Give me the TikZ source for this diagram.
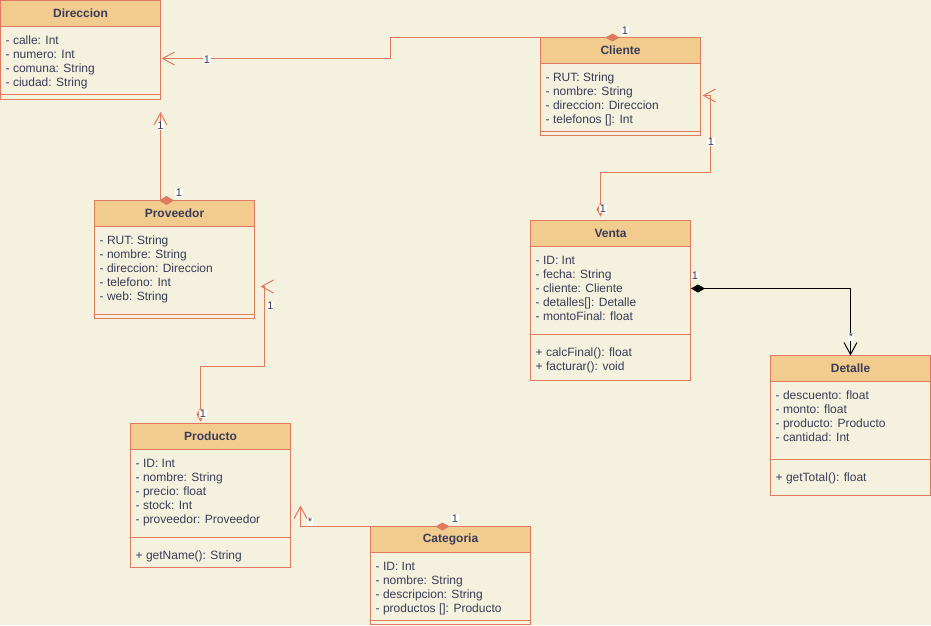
\documentclass[tikz,border=0pt]{standalone}
\usepackage{fontspec}
\setmainfont{Liberation Sans}
\usetikzlibrary{arrows.meta,calc}

\definecolor{umlbg}{HTML}{F4F1DE}
\definecolor{umlhead}{HTML}{F2CC8F}
\definecolor{umlline}{HTML}{E07A5F}
\definecolor{umltext}{HTML}{393C56}

\newcommand{\umlfont}{\fontsize{12pt}{14pt}\selectfont}
\newcommand{\multfont}{\fontsize{11pt}{13pt}\selectfont}

\begin{document}
\begin{tikzpicture}[x=1pt, y=-1pt,
	classhead/.style={draw=umlline, fill=umlhead, line width=1pt, minimum width=160pt, minimum height=26pt, inner sep=0pt, outer sep=0pt, anchor=north west, text=umltext, font=\umlfont\bfseries},
	classbody/.style={draw=umlline, fill=umlbg, line width=1pt, minimum width=160pt, inner sep=0pt, outer sep=0pt, anchor=north west},
	member/.style={anchor=base west, inner sep=0pt, text=umltext, font=\umlfont},
	mult/.style={fill=white, inner sep=0.6pt, text=umltext, font=\multfont},
	link/.style={draw=umlline, line width=1pt},
	dia/.tip={Diamond[length=14pt,width=8pt]},
	barb/.tip={Straight Barb[length=12pt,width=13pt]}]

	\useasboundingbox (0,0) rectangle (931,625);
	\fill[umlbg] (0,0) rectangle (931,625);

	% Direccion
	\node[classhead] (direccion) at (0.5,0.5) {Direccion};
	\node[classbody, minimum height=68pt] (direccion attr) at (direccion.south west) {};
	\node[classbody, minimum height=4.5pt] (direccion ops) at (direccion attr.south west) {};
	\foreach \txt [count=\i] in {- calle: Int, - numero: Int, - comuna: String, - ciudad: String}
		\node[member] (direccion a\i) at ([shift={(5,{4+14*\i})}]direccion.south west) {\txt};

	% Cliente
	\node[classhead] (cliente) at (540.5,37.5) {Cliente};
	\node[classbody, minimum height=68pt] (cliente attr) at (cliente.south west) {};
	\node[classbody, minimum height=4pt] (cliente ops) at (cliente attr.south west) {};
	\foreach \txt [count=\i] in {- RUT: String, - nombre: String, - direccion: Direccion, {- telefonos []: Int}}
		\node[member] (cliente a\i) at ([shift={(5,{4+14*\i})}]cliente.south west) {\txt};

	% Proveedor
	\node[classhead] (proveedor) at (94.5,200.5) {Proveedor};
	\node[classbody, minimum height=88pt] (proveedor attr) at (proveedor.south west) {};
	\node[classbody, minimum height=4pt] (proveedor ops) at (proveedor attr.south west) {};
	\foreach \txt [count=\i] in {- RUT: String, - nombre: String, - direccion: Direccion, - telefono: Int, - web: String}
		\node[member] (proveedor a\i) at ([shift={(5,{4+14*\i})}]proveedor.south west) {\txt};

	% Venta
	\node[classhead] (venta) at (530.5,220.5) {Venta};
	\node[classbody, minimum height=88pt] (venta attr) at (venta.south west) {};
	\node[classbody, minimum height=46pt] (venta ops) at (venta attr.south west) {};
	\foreach \txt [count=\i] in {- ID: Int, - fecha: String, - cliente: Cliente, {- detalles[]: Detalle}, - montoFinal: float}
		\node[member] (venta a\i) at ([shift={(5,{4+14*\i})}]venta.south west) {\txt};
	\foreach \txt [count=\i] in {+ calcFinal(): float, + facturar(): void}
		\node[member] (venta o\i) at ([shift={(5,{8+14*\i})}]venta attr.south west) {\txt};

	% Detalle
	\node[classhead] (detalle) at (770.5,355.5) {Detalle};
	\node[classbody, minimum height=77.5pt] (detalle attr) at (detalle.south west) {};
	\node[classbody, minimum height=36pt] (detalle ops) at (detalle attr.south west) {};
	\foreach \txt [count=\i] in {- descuento: float, - monto: float, - producto: Producto, - cantidad: Int}
		\node[member] (detalle a\i) at ([shift={(5,{4+14*\i})}]detalle.south west) {\txt};
	\foreach \txt [count=\i] in {+ getTotal(): float}
		\node[member] (detalle o\i) at ([shift={(5,{8+14*\i})}]detalle attr.south west) {\txt};

	% Producto
	\node[classhead] (producto) at (130.5,423.5) {Producto};
	\node[classbody, minimum height=88pt] (producto attr) at (producto.south west) {};
	\node[classbody, minimum height=30pt] (producto ops) at (producto attr.south west) {};
	\foreach \txt [count=\i] in {- ID: Int, - nombre: String, - precio: float, - stock: Int, - proveedor: Proveedor}
		\node[member] (producto a\i) at ([shift={(5,{4+14*\i})}]producto.south west) {\txt};
	\foreach \txt [count=\i] in {+ getName(): String}
		\node[member] (producto o\i) at ([shift={(5,{8+14*\i})}]producto attr.south west) {\txt};

	% Categoria
	\node[classhead] (categoria) at (370.5,526.5) {Categoria};
	\node[classbody, minimum height=68pt] (categoria attr) at (categoria.south west) {};
	\node[classbody, minimum height=4pt] (categoria ops) at (categoria attr.south west) {};
	\foreach \txt [count=\i] in {- ID: Int, - nombre: String, - descripcion: String, {- productos []: Producto}}
		\node[member] (categoria a\i) at ([shift={(5,{4+14*\i})}]categoria.south west) {\txt};

	% connector end points
	\coordinate (cli out) at ($(cliente.north west)+(79,0)$);
	\coordinate (dir in) at ($(direccion.north east)+(1,58)$);
	\coordinate (prov out) at ($(proveedor.north west)+(66,0)$);
	\coordinate (dir low) at ($(direccion ops.south east)+(0,13)$);
	\coordinate (venta out) at ($(venta.north west)+(70,-4)$);
	\coordinate (cli bend) at ($(cliente.north east)+(10,58)$);
	\coordinate (cli in) at ($(cliente.north east)+(2,58)$);
	\coordinate (prod out) at ($(producto.north west)+(70,-2)$);
	\coordinate (prov bend) at ($(proveedor.north east)+(10,86)$);
	\coordinate (prov in) at ($(proveedor.north east)+(6,86)$);
	\coordinate (cat out) at ($(categoria.north west)+(79,0)$);
	\coordinate (prod in) at ($(producto.north east)+(10,82)$);
	\coordinate (venta right) at ($(venta.north east)+(0.5,68)$);

	% associations
	\draw[link, dia-barb] (cli out) -| ([xshift=229]dir in) -- (dir in);
	\draw[link, -barb] (prov out) -- (dir low);
	\fill[umlline] ($(proveedor.north west)+(64.5,0)$) -- ++(7.5,-4.5) -- ++(7.5,4.5) -- ++(-7.5,4.5) -- cycle;
	\draw[link, dia-barb] (venta out) |- ($(cli bend)+(0,77)$) -- (cli bend) -- (cli in);
	\draw[link, dia-barb] (prod out) |- ($(prov bend)+(0,80)$) -- (prov bend) -- (prov in);
	\draw[link, dia-barb] (cat out) -| (prod in);
	\draw[line width=1pt, black, dia-barb] (venta right) -| (detalle.north);

	% multiplicities
	\node[mult] (m1) at (207,60) {1};
	\node[mult] (m2) at (625,31) {1};
	\node[mult] (m3) at (160.5,126) {1};
	\node[mult] (m4) at (179,193) {1};
	\node[mult] (m5) at (711,142) {1};
	\node[mult] (m6) at (603,209) {1};
	\node[mult] (m7) at (270.5,306) {1};
	\node[mult] (m8) at (203,414) {1};
	\node[mult] (m9) at (310,522) {*};
	\node[mult] (m10) at (455,519) {1};
	\node[mult] (m11) at (695,276) {1};
	\node[mult] (m12) at (851,337) {*};

\end{tikzpicture}
\end{document}
